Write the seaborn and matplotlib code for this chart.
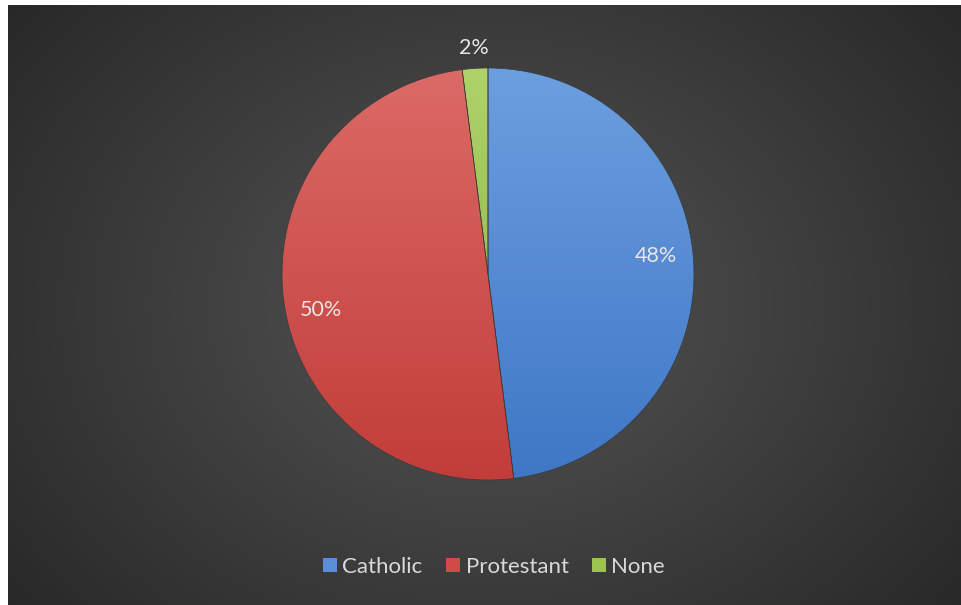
import numpy as np
import matplotlib
matplotlib.use("Agg")
import matplotlib.pyplot as plt
import seaborn as sns
from matplotlib.patches import Patch

categories = ["Catholic", "Protestant", "None"]
shares = [48, 50, 2]
pct_labels = ["48%", "50%", "2%"]

sns.set_style("white")
plt.rcParams['font.family'] = ['Lato', 'DejaVu Sans']

palette = sns.color_palette(["#5a8fd8", "#d04b47", "#9cc24f"])
top_cols = ["#6c9fe0", "#db6a66", "#b0d26a"]
bot_cols = ["#3f77c6", "#c23d39", "#85ad3c"]

W, H = 961, 605
fig = plt.figure(figsize=(W / 100, H / 100), dpi=100)
fig.patch.set_facecolor("white")

# background with radial gradient
bg = fig.add_axes([8 / W, 0, (W - 8) / W, (H - 5) / H])
bg.set_axis_off()
yy, xx = np.mgrid[0:300, 0:480]
cx, cy = 240, 150
d = np.sqrt(((xx - cx) / 330.0) ** 2 + ((yy - cy) / 260.0) ** 2)
d = np.clip(d, 0, 1)
c0 = np.array([0x55, 0x55, 0x55]) / 255
c1 = np.array([0x25, 0x25, 0x25]) / 255
img = c0[None, None, :] * (1 - d[..., None]) + c1[None, None, :] * d[..., None]
bg.imshow(img, aspect="auto", extent=[0, 1, 0, 1])
bg.set_xlim(0, 1)
bg.set_ylim(0, 1)

# pie axes
R = 206
cxp, cyp = 488, 274
ax = fig.add_axes([(cxp - R) / W, (H - cyp - R) / H, 2 * R / W, 2 * R / H])
wedges, texts = ax.pie(shares, colors=palette, startangle=90, counterclock=False,
                       radius=1, wedgeprops=dict(edgecolor="#3a3a3a", linewidth=0.5))
ax.set_xlim(-1, 1)
ax.set_ylim(-1, 1)
ax.set_aspect("equal")
ax.set_axis_off()

# vertical gradient inside each wedge
grad = np.linspace(1, 0, 200)[:, None]
for w, tc, bc in zip(wedges, top_cols, bot_cols):
    t = np.array(matplotlib.colors.to_rgb(tc))
    b = np.array(matplotlib.colors.to_rgb(bc))
    g = b[None, None, :] * (1 - grad[..., None]) + t[None, None, :] * grad[..., None]
    g = np.repeat(g, 2, axis=1)
    im = ax.imshow(g, extent=[-1, 1, -1, 1], aspect="auto", zorder=1)
    im.set_clip_path(w)
    w.set_facecolor("none")
    w.set_zorder(2)

# percentage labels (distance from centre and angular nudge, like Excel's best fit)
angle = 90.0
dists = [0.82, 0.83, 1.1]
nudges = [2.5, 5.0, 0.0]
for share, lab, dist, nd in zip(shares, pct_labels, dists, nudges):
    span = share / 100 * 360
    mid = np.deg2rad(angle - span / 2 + nd)
    angle -= span
    ax.text(dist * np.cos(mid), dist * np.sin(mid), lab, ha="center", va="center",
            color="#e6e6e6", fontsize=15.5, zorder=5, clip_on=False)

handles = [Patch(facecolor=c, edgecolor="none") for c in palette]
leg = fig.legend(handles, categories, loc="center", bbox_to_anchor=(494 / W, 1 - 567 / H),
                 ncol=3, frameon=False, fontsize=16, handlelength=0.63, handleheight=0.63,
                 handletextpad=0.25, columnspacing=1.05, labelcolor="#d9d9d9")

fig.savefig("out.png", dpi=100, facecolor=fig.get_facecolor())
